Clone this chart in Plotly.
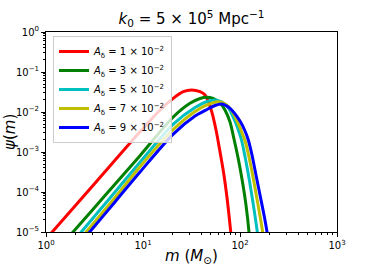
import plotly.graph_objects as go

# Data
red_m = [1.0, 1.16, 3.28, 9.31, 15.0, 20.5, 26.0, 31.8, 38.7, 43.6, 47.1, 51.1, 56.6, 62.2, 67.6, 72.9, 80.2, 83.7]
red_psi = [6.6e-6, 1.0e-5, 1.78e-4, 3.2e-3, 1.12e-2, 2.19e-2, 3.22e-2, 3.55e-2, 3.22e-2, 2.66e-2, 1.81e-2, 1.02e-2,
           3.55e-3, 1.02e-3, 3.16e-4, 8.4e-5, 1.02e-5, 3.2e-6]

green_m = [1.61, 1.90, 4.06, 9.31, 20.5, 30.5, 38.7, 45.4, 52.7, 62.2, 70.0, 78.9, 86.7, 96.5, 106.1, 115.3, 123.8, 128.3]
green_psi = [6.3e-6, 1.0e-5, 8.15e-5, 8.1e-4, 7.5e-3, 1.65e-2, 2.18e-2, 2.33e-2, 2.18e-2, 1.68e-2, 1.12e-2, 5.6e-3,
             2.11e-3, 6.3e-4, 1.78e-4, 4.7e-5, 1.0e-5, 3.2e-6]

cyan_m = [2.01, 2.31, 4.57, 9.31, 20.5, 34.4, 45.7, 55.2, 65.2, 75.2, 84.7, 94.2, 103.6, 113.9, 125.3, 136.8, 150.8, 157.0]
cyan_psi = [6.7e-6, 1.0e-5, 7.1e-5, 5.53e-4, 5.0e-3, 1.3e-2, 1.83e-2, 2.0e-2, 1.78e-2, 1.3e-2, 7.7e-3, 4.1e-3,
            2.0e-3, 6.7e-4, 1.88e-4, 5.0e-5, 1.0e-5, 3.5e-6]

yellow_m = [2.27, 2.60, 4.91, 9.31, 20.5, 34.4, 45.7, 59.7, 71.7, 82.7, 93.1, 103.6, 112.6, 123.8, 136.2, 149.0,
            160.8, 171.0, 178.1]
yellow_psi = [6.7e-6, 1.0e-5, 6.3e-5, 4.29e-4, 3.65e-3, 1.03e-2, 1.5e-2, 1.81e-2, 1.54e-2, 1.06e-2, 5.96e-3,
              3.25e-3, 1.94e-3, 7.5e-4, 2.37e-4, 7.1e-5, 2.5e-5, 1.0e-5, 3.5e-6]

blue_m = [2.46, 2.82, 5.14, 9.31, 20.5, 34.4, 45.7, 55.2, 64.8, 78.9, 100.0, 112.6, 121.8, 133.0, 146.2, 160.8,
          176.8, 189.8, 197.7]
blue_psi = [6.8e-6, 1.0e-5, 5.65e-5, 3.16e-4, 2.8e-3, 7.9e-3, 1.155e-2, 1.454e-2, 1.585e-2, 1.238e-2, 5.96e-3,
            3.35e-3, 2.0e-3, 8.4e-4, 2.66e-4, 8.4e-5, 2.66e-5, 1.0e-5, 3.5e-6]

series_labels = ["1", "3", "5", "7", "9"]
series_colors = ["#ff0000", "#008000", "#00bfbf", "#bfbf00", "#0000ff"]

x_tickvals = [1, 10, 100, 1000]
x_ticktext = ["10<sup>0</sup>", "10<sup>1</sup>", "10<sup>2</sup>", "10<sup>3</sup>"]
y_tickvals = [1e-5, 1e-4, 1e-3, 1e-2, 1e-1, 1]
y_ticktext = ["10<sup>−5</sup>", "10<sup>−4</sup>", "10<sup>−3</sup>", "10<sup>−2</sup>", "10<sup>−1</sup>",
              "10<sup>0</sup>"]

FONT = "DejaVu Sans"

fig = go.Figure()
data = [(red_m, red_psi), (green_m, green_psi), (cyan_m, cyan_psi), (yellow_m, yellow_psi), (blue_m, blue_psi)]
for (mx, py), lab, col in zip(data, series_labels, series_colors):
    fig.add_trace(go.Scatter(
        x=mx, y=py, mode="lines",
        line=dict(color=col, width=3, shape="spline", smoothing=0.8),
        name="<i>A</i><sub>δ</sub> = " + lab + " × 10<sup>−2</sup>",
    ))

x_minor = [k * 10 ** e for e in range(0, 3) for k in range(2, 10)]
y_minor = [k * 10.0 ** e for e in range(-5, 0) for k in range(2, 10)]

axis_common = dict(
    type="log", showgrid=False, zeroline=False, automargin=False,
    showline=True, linecolor="black", linewidth=1, mirror=True,
    ticks="outside", ticklen=4, tickwidth=1, tickcolor="black",
    tickfont=dict(family=FONT, size=10, color="black"),
)

fig.update_xaxes(
    range=[0, 3], tickmode="array", tickvals=x_tickvals, ticktext=x_ticktext,
    minor=dict(tickvals=x_minor, ticks="outside", ticklen=2, tickcolor="black"),
    **axis_common,
)
fig.update_yaxes(
    range=[-5, 0], tickmode="array", tickvals=y_tickvals, ticktext=y_ticktext,
    minor=dict(tickvals=y_minor, ticks="outside", ticklen=2, tickcolor="black"),
    **axis_common,
)

title_font = dict(family=FONT, size=15, color="black")
fig.add_annotation(text="<i>m</i> (<i>M</i><sub>⊙</sub>)", xref="paper", yref="paper",
                   x=0.5, y=-0.12, xanchor="center", yanchor="middle", showarrow=False, font=title_font)
fig.add_annotation(text="<i>ψ</i>(<i>m</i>)", xref="paper", yref="paper", textangle=-90,
                   x=-0.124, y=0.5, xanchor="center", yanchor="middle", showarrow=False, font=title_font)

fig.update_layout(
    width=374, height=266,
    margin=dict(l=46, r=37, t=32, b=34, autoexpand=False),
    paper_bgcolor="white", plot_bgcolor="white",
    title=dict(text="<i>k</i><sub>0</sub> = 5 × 10<sup>5</sup> Mpc<sup>−1</sup>",
               font=title_font,
               x=0.5, xanchor="center", xref="paper", y=0.93, yanchor="middle", automargin=False),
    legend=dict(x=0.024, y=0.98, xanchor="left", yanchor="top",
                bgcolor="rgba(255,255,255,0.8)", bordercolor="#cccccc", borderwidth=1,
                font=dict(family=FONT, size=10, color="black"),
                tracegroupgap=0, itemwidth=30),
    showlegend=True,
)

fig.write_html("out.html", config={"displayModeBar": False},
               post_script="document.body.style.margin='0';")
